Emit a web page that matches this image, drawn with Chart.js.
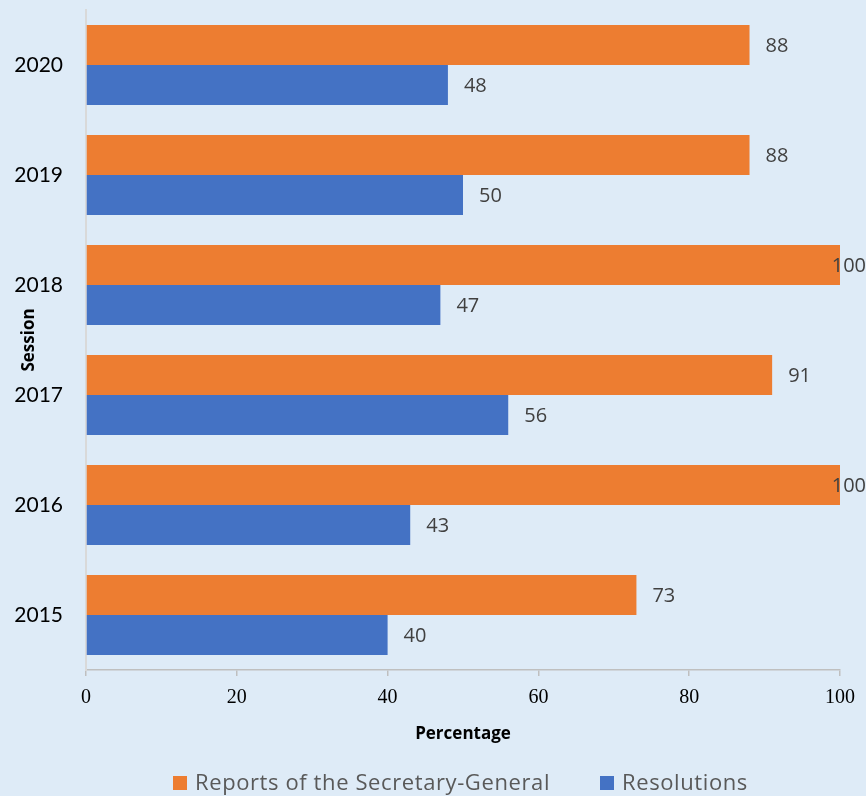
<!DOCTYPE html>
<html>
<head>
<meta charset="utf-8">
<script src="https://cdn.jsdelivr.net/npm/chart.js@4"></script>
<style>
  html, body { margin: 0; padding: 0; background: #DEEBF7; }
  #grafico { display: block; }
</style>
</head>
<body>
<canvas id="grafico" width="866" height="796"></canvas>
<script>
// dados do grafico
const sessoes = ['2020', '2019', '2018', '2017', '2016', '2015'];
const relatorios = [88, 88, 100, 91, 100, 73];   // Reports of the Secretary-General
const resolucoes = [48, 50, 47, 56, 43, 40];      // Resolutions
const ticksX = [0, 20, 40, 60, 80, 100];

const corLaranja = '#ED7D31';
const corAzul = '#4472C4';

// rotulos de valor no fim das barras
const rotulosPlugin = {
  id: 'rotulos',
  afterDatasetsDraw(chart) {
    const ctx = chart.ctx;
    ctx.save();
    ctx.font = '20px "Open Sans", sans-serif';
    ctx.fillStyle = '#404040';
    ctx.textBaseline = 'middle';
    ctx.textAlign = 'left';
    chart.data.datasets.forEach((ds, i) => {
      chart.getDatasetMeta(i).data.forEach((bar, j) => {
        const txt = String(ds.data[j]);
        const w = ctx.measureText(txt).width;
        let x = bar.x + 16;
        if (x + w > chart.width) x = chart.width - w; // empurra para dentro
        ctx.fillText(txt, x, bar.y + 1);
      });
    });
    ctx.restore();
  }
};

// legenda desenhada a mao
const legendaPlugin = {
  id: 'legenda',
  afterDraw(chart) {
    const ctx = chart.ctx;
    const posicoes = [173, 600];
    ctx.save();
    ctx.font = '22px "Open Sans", sans-serif';
    ctx.letterSpacing = '0.6px';
    ctx.textBaseline = 'alphabetic';
    chart.data.datasets.forEach((ds, i) => {
      const x = posicoes[i];
      ctx.fillStyle = ds.backgroundColor;
      ctx.fillRect(x, 776, 14, 14);
      ctx.fillStyle = '#595959';
      ctx.fillText(ds.label, x + 22, 790);
    });
    ctx.restore();
  }
};

const ctx = document.getElementById('grafico').getContext('2d');
new Chart(ctx, {
  type: 'bar',
  data: {
    labels: sessoes,
    datasets: [
      {
        label: 'Reports of the Secretary-General',
        data: relatorios,
        backgroundColor: corLaranja,
        borderWidth: 0,
        categoryPercentage: 0.727,
        barPercentage: 1
      },
      {
        label: 'Resolutions',
        data: resolucoes,
        backgroundColor: corAzul,
        borderWidth: 0,
        categoryPercentage: 0.727,
        barPercentage: 1
      }
    ]
  },
  options: {
    indexAxis: 'y',
    responsive: false,
    animation: false,
    devicePixelRatio: 1,
    layout: { padding: { left: 0, right: 26, top: 10, bottom: 52 } },
    plugins: {
      legend: { display: false },
      tooltip: { enabled: false }
    },
    scales: {
      x: {
        min: 0,
        max: 100,
        afterBuildTicks: scale => { scale.ticks = ticksX.map(v => ({ value: v })); },
        afterFit: scale => {
          scale.height = 74;
          scale.paddingLeft = 0;
          scale.paddingRight = 0;
        },
        grid: {
          drawOnChartArea: false,
          drawTicks: true,
          tickLength: 6,
          color: '#BFBFBF',
          lineWidth: 1.5
        },
        border: { display: true, color: '#BFBFBF', width: 1.5 },
        ticks: {
          font: { family: '"Liberation Serif", serif', size: 20 },
          color: '#000',
          padding: 10,
          maxRotation: 0
        },
        title: {
          display: true,
          text: 'Percentage',
          font: { family: '"Open Sans", sans-serif', size: 17, weight: 'bold' },
          color: '#000',
          padding: { top: 0, bottom: 0 }
        }
      },
      y: {
        afterFit: scale => {
          scale.width = 86;
          scale.paddingTop = 0;
          scale.paddingBottom = 0;
        },
        grid: { display: false },
        border: { display: true, color: '#D9D9D9', width: 2 },
        ticks: {
          font: { family: 'Lato, sans-serif', size: 21 },
          color: '#000',
          padding: 15
        },
        title: {
          display: true,
          text: 'Session',
          font: { family: '"Open Sans", sans-serif', size: 17, weight: 'bold' },
          color: '#000',
          padding: { top: 19, bottom: 0 }
        }
      }
    }
  },
  plugins: [rotulosPlugin, legendaPlugin]
});
</script>
</body>
</html>
